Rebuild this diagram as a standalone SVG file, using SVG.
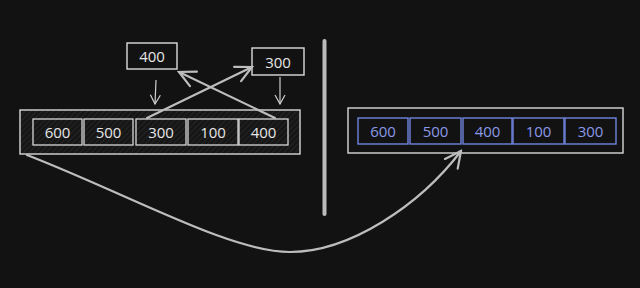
<svg xmlns="http://www.w3.org/2000/svg" width="640" height="288" viewBox="0 0 640 288">
<defs>
<pattern id="hatch" width="4" height="4" patternUnits="userSpaceOnUse" patternTransform="rotate(45)">
<rect width="4" height="4" fill="#161616"/>
<line x1="0" y1="0" x2="0" y2="4" stroke="#2a2a2a" stroke-width="1.5"/>
</pattern>
<marker id="arr" viewBox="0 0 12 12" refX="10" refY="6" markerWidth="12" markerHeight="12" markerUnits="userSpaceOnUse" orient="auto">
<path d="M1 1 L10 6 L1 11" fill="none" stroke="#cfcfcf" stroke-width="1.2"/>
</marker>
<marker id="arrBig" viewBox="0 0 20 20" refX="18" refY="10" markerWidth="20" markerHeight="20" markerUnits="userSpaceOnUse" orient="auto">
<path d="M2 2 L18 10 L2 18" fill="none" stroke="#bdbdbd" stroke-width="2.2" stroke-linecap="round"/>
</marker>
</defs>
<style>
.cell{fill:url(#hatch);stroke:#d8d8d8;stroke-width:1.3}
.bcell{fill:#121212;stroke:#7183de;stroke-width:1.4}
.t{font-family:"Open Sans","Liberation Sans",sans-serif;font-size:15px;fill:#e6e6e6;text-anchor:middle;dominant-baseline:central}
.bt{font-family:"Open Sans","Liberation Sans",sans-serif;font-size:15px;fill:#8a98e8;text-anchor:middle;dominant-baseline:central}
.c{fill:none;stroke:#bdbdbd;stroke-width:2.2;stroke-linecap:round}
.thin{fill:none;stroke:#cfcfcf;stroke-width:1.2}
</style>
<rect width="640" height="288" fill="#121212"/>

<g id="left-array">
<rect x="20" y="110" width="280" height="44" fill="url(#hatch)" stroke="#d8d8d8" stroke-width="1.4"/>
</g>
<g id="l600"><rect class="cell" x="33" y="119" width="49" height="26"/><text class="t" x="57.5" y="132">600</text></g>
<g id="l500"><rect class="cell" x="84" y="119" width="49" height="26"/><text class="t" x="108.5" y="132">500</text></g>
<g id="l300"><rect class="cell" x="136" y="119" width="50" height="26"/><text class="t" x="161" y="132">300</text></g>
<g id="l100"><rect class="cell" x="188" y="119" width="50" height="26"/><text class="t" x="213" y="132">100</text></g>
<g id="l400"><rect class="cell" x="239" y="119" width="49" height="26"/><text class="t" x="263.5" y="132">400</text></g>

<g id="tmp400"><rect x="127" y="43" width="50" height="26" fill="#121212" stroke="#dcdcdc" stroke-width="1.4"/><text class="t" x="152" y="56">400</text></g>
<g id="tmp300"><rect x="252" y="48" width="52" height="27" fill="#121212" stroke="#dcdcdc" stroke-width="1.4"/><text class="t" x="278" y="61.5">300</text></g>

<g id="divider"><line x1="324.5" y1="41" x2="324.5" y2="214" stroke="#bcbcbc" stroke-width="4" stroke-linecap="round"/></g>

<g id="right-array">
<rect x="348" y="108" width="275" height="45" fill="#121212" stroke="#d8d8d8" stroke-width="1.4"/>
</g>
<g id="r600"><rect class="bcell" x="358" y="118" width="50" height="26"/><text class="bt" x="383" y="131">600</text></g>
<g id="r500"><rect class="bcell" x="410" y="118" width="51" height="26"/><text class="bt" x="435.5" y="131">500</text></g>
<g id="r400"><rect class="bcell" x="463" y="118" width="49" height="26"/><text class="bt" x="487.5" y="131">400</text></g>
<g id="r100"><rect class="bcell" x="513" y="118" width="51" height="26"/><text class="bt" x="538.5" y="131">100</text></g>
<g id="r300"><rect class="bcell" x="565" y="118" width="51" height="26"/><text class="bt" x="590.5" y="131">300</text></g>

<g id="connectors">
<line class="thin" x1="156" y1="80" x2="155" y2="104" marker-end="url(#arr)"/>
<line class="thin" x1="280" y1="77" x2="280" y2="104" marker-end="url(#arr)"/>
<line class="c" x1="147" y1="118" x2="252" y2="67" marker-end="url(#arrBig)"/>
<line class="c" x1="275" y1="118" x2="179" y2="72" marker-end="url(#arrBig)"/>
<path class="c" d="M27 155 C 130 195, 230 252, 290 252 C 350 252, 420 205, 461 151" marker-end="url(#arrBig)"/>
</g>
</svg>
